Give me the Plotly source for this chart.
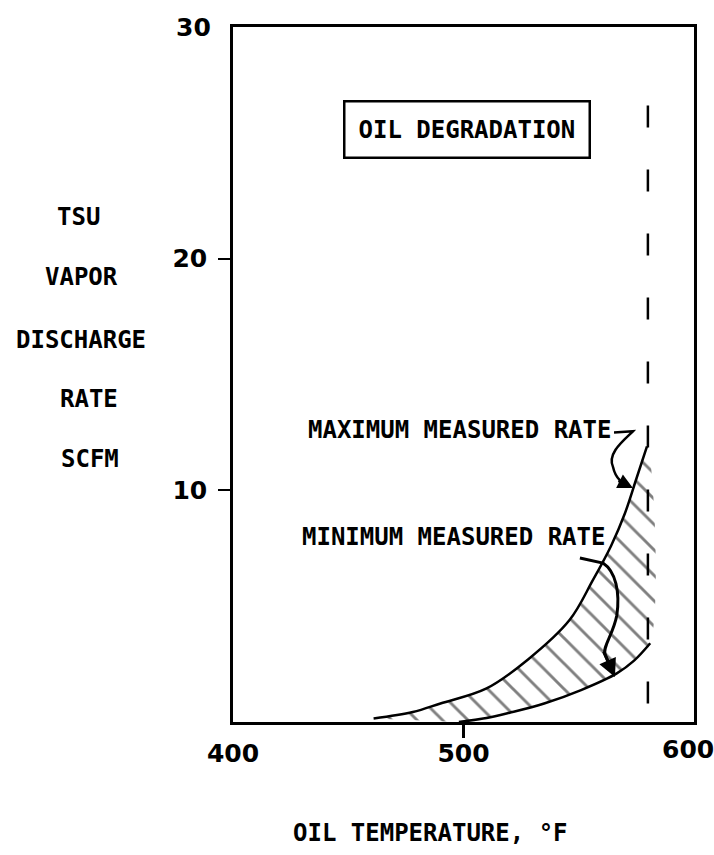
import plotly.graph_objects as go

# ---- data ----
max_temp = [461, 478, 490, 510, 528, 546, 556, 564, 570, 575, 579.6]
max_rate = [0.15, 0.43, 0.8, 1.45, 2.7, 4.4, 6.1, 7.6, 9.0, 10.5, 11.9]
min_temp = [498, 510, 520, 535, 551, 566.5, 574, 581]
min_rate = [0.0, 0.17, 0.4, 0.8, 1.38, 2.1, 2.65, 3.4]
limit_temp = 580
limit_rate = [0.8, 27.8]
x_ticks = [400, 500]
x_last_tick = 600
y_ticks = [10, 20]
y_top_tick = 30
y_title_lines = ["TSU", "VAPOR", "DISCHARGE", "RATE", "SCFM"]

TEXT_FONT = dict(family="DejaVu Sans Mono", size=24, color="black", weight="bold")
NUM_FONT = dict(family="DejaVu Sans", size=25, color="black", weight="bold")

fig = go.Figure()

# hatched band between the two curves
band_x = max_temp + min_temp[::-1]
band_y = max_rate + min_rate[::-1]
fig.add_trace(go.Scatter(
    x=band_x, y=band_y, mode="lines", fill="toself", line=dict(width=0),
    line_shape="spline",
    fillcolor="rgba(0,0,0,0)",
    fillpattern=dict(shape="\\", size=18, solidity=0.16, fgcolor="black",
                     bgcolor="rgba(0,0,0,0)"),
    hoverinfo="skip", showlegend=False))

fig.add_trace(go.Scatter(x=max_temp, y=max_rate, mode="lines", line_shape="spline",
                         line=dict(color="black", width=2.5), showlegend=False))
fig.add_trace(go.Scatter(x=min_temp, y=min_rate, mode="lines", line_shape="spline",
                         line=dict(color="black", width=2.5), showlegend=False))
fig.add_trace(go.Scatter(x=[limit_temp, limit_temp], y=limit_rate, mode="lines",
                         line=dict(color="black", width=2.5, dash="22px,42px"),
                         showlegend=False))

# leader lines (curved) from the labels to the curves
fig.add_shape(type="path", xref="x", yref="y",
              path="M 565.3,12.5 L 573.5,12.55 C 570,12.2 562,11.6 564.9,11.0 "
                   "C 566,10.5 569,10.3 572.5,10.15",
              line=dict(color="black", width=2.5))
fig.add_shape(type="path", xref="x", yref="y",
              path="M 550.5,7.08 L 560.5,6.86 C 566,6.5 568,5.6 566.5,4.6 "
                   "C 565,3.8 560,3.2 561.5,2.9 L 565.2,2.05",
              line=dict(color="black", width=3))

annotations = [
    dict(x=573.5, y=10.1, xref="x", yref="y", text="", showarrow=True,
         arrowhead=2, arrowsize=1.2, arrowwidth=2.5, arrowcolor="black",
         ax=-16, ay=-8),
    dict(x=565.7, y=1.94, xref="x", yref="y", text="", showarrow=True,
         arrowhead=2, arrowsize=1.2, arrowwidth=3, arrowcolor="black",
         ax=-12, ay=-27),
    dict(x=564.9, y=12.6, xref="x", yref="y", text="MAXIMUM MEASURED RATE",
         showarrow=False, xanchor="right", yanchor="middle", font=TEXT_FONT),
    dict(x=562.2, y=7.99, xref="x", yref="y", text="MINIMUM MEASURED RATE",
         showarrow=False, xanchor="right", yanchor="middle", font=TEXT_FONT),
    dict(x=501.5, y=25.56, xref="x", yref="y", text="OIL DEGRADATION",
         showarrow=False, font=TEXT_FONT, bordercolor="black", borderwidth=2.5,
         borderpad=13, bgcolor="white"),
    dict(x=0, y=y_top_tick, xref="paper", yref="y", text=str(y_top_tick),
         showarrow=False, font=NUM_FONT, xanchor="center", yanchor="middle",
         xshift=-40),
    dict(x=x_last_tick, y=0, xref="x", yref="paper", text=str(x_last_tick),
         showarrow=False, font=NUM_FONT, xanchor="center", yanchor="middle",
         xshift=-6, yshift=-27),
    dict(x=(430 - 233) / 461, y=(722 - 833) / 695, xref="paper", yref="paper",
         text="OIL TEMPERATURE, °F", showarrow=False, font=TEXT_FONT,
         xanchor="center", yanchor="middle"),
]
y_title_pos = [(78, 217), (81, 277), (81, 340), (89, 399), (90, 459)]
for txt, (px, py) in zip(y_title_lines, y_title_pos):
    annotations.append(dict(x=(px - 233) / 461, y=(722 - py) / 695, xref="paper",
                            yref="paper", text=txt, showarrow=False, font=TEXT_FONT,
                            xanchor="center", yanchor="middle"))

# plot area at x 233-694, y 27-722 on a margin-free page
fig.update_layout(
    width=714, height=855,
    margin=dict(l=233, r=20, t=27, b=133, autoexpand=False),
    paper_bgcolor="white", plot_bgcolor="white",
    annotations=annotations,
    xaxis=dict(range=[400, 600], tickvals=x_ticks, ticks="", showgrid=False,
               zeroline=False, showline=True, linecolor="black", linewidth=2.5,
               mirror=True, tickfont=NUM_FONT, ticklabelstandoff=7,
               automargin=False,
               minor=dict(tickvals=[500], ticks="outside", ticklen=13,
                          tickwidth=2.5, tickcolor="black")),
    yaxis=dict(range=[0, 30], tickvals=y_ticks, ticks="", showgrid=False,
               zeroline=False, showline=True, linecolor="black", linewidth=2.5,
               mirror=True, tickfont=NUM_FONT, ticklabelstandoff=18,
               automargin=False,
               minor=dict(tickvals=y_ticks, ticks="outside", ticklen=12,
                          tickwidth=2, tickcolor="black")),
)

fig.write_html("out.html", config={"displayModeBar": False},
               post_script="document.body.style.margin='0';"
                           "document.body.style.overflow='hidden';")
